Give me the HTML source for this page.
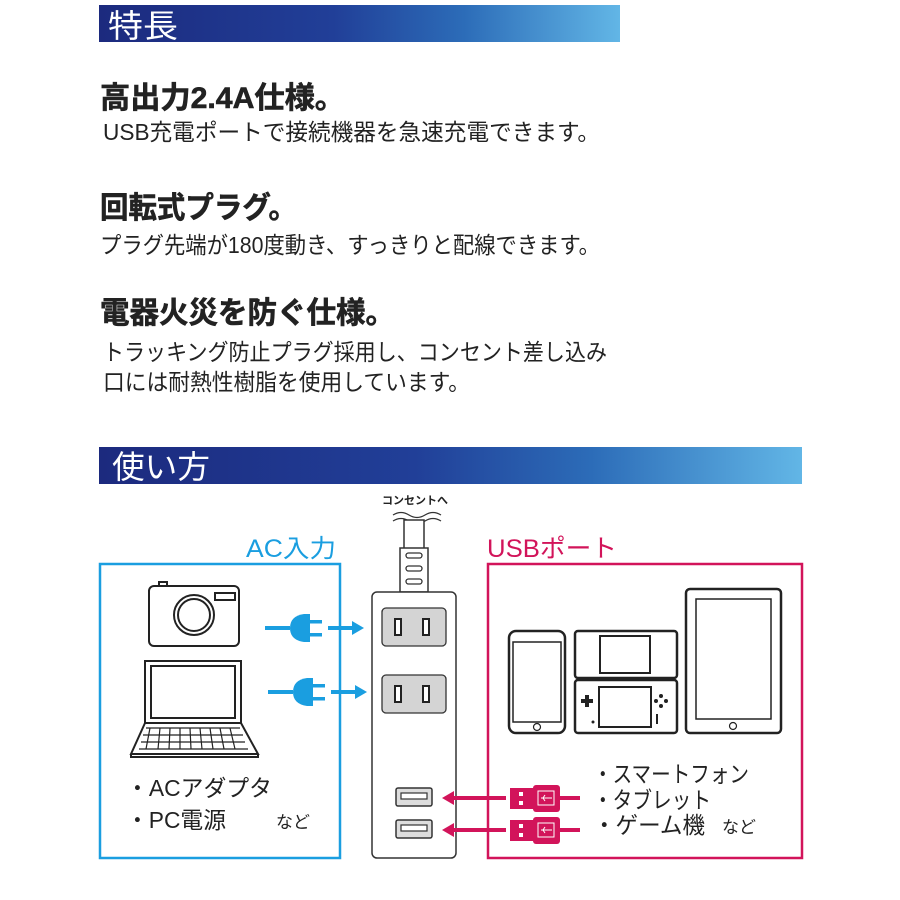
<!DOCTYPE html>
<html><head><meta charset="utf-8"><style>
html,body{margin:0;padding:0;background:#fff}
svg{display:block}
text{font-family:"Liberation Sans","Noto Sans CJK JP",sans-serif}
</style></head><body>
<svg width="900" height="900" viewBox="0 0 900 900" xmlns="http://www.w3.org/2000/svg">
<defs>
<linearGradient id="g1" x1="0" x2="1" y1="0" y2="0">
<stop offset="0" stop-color="#1c2a7e"/><stop offset="0.45" stop-color="#213f98"/><stop offset="0.7" stop-color="#2c6cb8"/><stop offset="1" stop-color="#62b6e6"/>
</linearGradient>
</defs>
<rect x="99" y="5" width="521" height="37" fill="url(#g1)"/>
<text x="108" y="37" font-size="32" fill="#fff" textLength="70" lengthAdjust="spacingAndGlyphs">特長</text>
<rect x="99" y="447" width="703" height="37" fill="url(#g1)"/>
<text x="112" y="478" font-size="32" fill="#fff" textLength="98" lengthAdjust="spacingAndGlyphs">使い方</text>

<g fill="#222">
<text x="100" y="108" font-size="30" font-weight="bold" stroke="#222" stroke-width="0.6" textLength="245" lengthAdjust="spacingAndGlyphs">高出力2.4A仕様。</text>
<text x="103" y="140" font-size="23" textLength="497" lengthAdjust="spacingAndGlyphs">USB充電ポートで接続機器を急速充電できます。</text>
<text x="100" y="218" font-size="30" font-weight="bold" stroke="#222" stroke-width="0.6" textLength="197" lengthAdjust="spacingAndGlyphs">回転式プラグ。</text>
<text x="100" y="253" font-size="23" textLength="500" lengthAdjust="spacingAndGlyphs">プラグ先端が180度動き、すっきりと配線できます。</text>
<text x="100" y="323" font-size="30" font-weight="bold" stroke="#222" stroke-width="0.6" textLength="295" lengthAdjust="spacingAndGlyphs">電器火災を防ぐ仕様。</text>
<text x="103" y="360" font-size="23" textLength="504" lengthAdjust="spacingAndGlyphs">トラッキング防止プラグ採用し、コンセント差し込み</text>
<text x="103" y="390" font-size="23" textLength="367" lengthAdjust="spacingAndGlyphs">口には耐熱性樹脂を使用しています。</text>
</g>

<rect x="100" y="564" width="240" height="294" fill="none" stroke="#1a9ee0" stroke-width="2.5"/>
<text x="246" y="557" font-size="25" fill="#1a9ee0" textLength="90" lengthAdjust="spacingAndGlyphs">AC入力</text>
<rect x="488" y="564" width="314" height="294" fill="none" stroke="#d2145a" stroke-width="2.5"/>
<text x="487" y="557" font-size="25" fill="#d2145a" textLength="130" lengthAdjust="spacingAndGlyphs">USBポート</text>

<text x="382" y="504" font-size="11" font-weight="bold" fill="#222" textLength="66" lengthAdjust="spacingAndGlyphs">コンセントへ</text>
<path d="M393 515 q8 -5 16 0 t16 0 t16 0 M393 521 q8 -5 16 0 t16 0 t16 0" fill="none" stroke="#333" stroke-width="1.2"/>
<rect x="404" y="520" width="20" height="30" fill="#fff" stroke="#333" stroke-width="1.5"/>
<rect x="400" y="548" width="28" height="44" fill="#fff" stroke="#333" stroke-width="1.5"/>
<g fill="none" stroke="#333" stroke-width="1.3"><rect x="406" y="553" width="16" height="5" rx="2.5"/><rect x="406" y="566" width="16" height="5" rx="2.5"/><rect x="406" y="579" width="16" height="5" rx="2.5"/></g>
<rect x="372" y="592" width="84" height="266" rx="5" fill="#fff" stroke="#333" stroke-width="1.5"/>
<rect x="382" y="608" width="64" height="38" rx="4" fill="#d4d4d4" stroke="#333" stroke-width="1.3"/>
<rect x="382" y="675" width="64" height="38" rx="4" fill="#d4d4d4" stroke="#333" stroke-width="1.3"/>
<g fill="#fff" stroke="#222" stroke-width="2"><rect x="395" y="619" width="6" height="16"/><rect x="423" y="619" width="6" height="16"/><rect x="395" y="686" width="6" height="16"/><rect x="423" y="686" width="6" height="16"/></g>
<g fill="#ddd" stroke="#333" stroke-width="1.5"><rect x="396" y="788" width="36" height="18" rx="2"/><rect x="396" y="820" width="36" height="18" rx="2"/></g>
<g fill="#fff" stroke="#333" stroke-width="1.2"><rect x="401" y="793" width="26" height="6"/><rect x="401" y="825" width="26" height="6"/></g>

<g fill="#1a9ee0" stroke="#1a9ee0">
<g id="bp"><line x1="265" y1="628" x2="290" y2="628" stroke-width="4"/>
<path d="M290 628 Q290 616 304 614 L310 614 L310 642 L304 642 Q290 640 290 628Z" stroke="none"/>
<rect x="310" y="620" width="12" height="3.5" stroke="none"/><rect x="310" y="633" width="12" height="3.5" stroke="none"/>
<line x1="328" y1="628" x2="356" y2="628" stroke-width="4"/><path d="M352 621 L364 628 L352 635Z" stroke="none"/></g>
<use href="#bp" transform="translate(3,64)"/>
</g>

<g fill="none" stroke="#222" stroke-width="2">
<rect x="149" y="586" width="90" height="60" rx="5"/><rect x="159" y="582" width="8" height="4"/>
<rect x="215" y="593" width="20" height="7"/>
<circle cx="194" cy="615" r="20"/><circle cx="194" cy="615" r="16"/>
<rect x="145" y="661" width="96" height="62"/><rect x="151" y="666" width="84" height="52"/>
<path d="M145 723 L131 754 L258 754 L241 723Z"/>
<path d="M131 754 L131 757 L258 757 L258 754"/>
</g>
<g stroke="#222" stroke-width="1.2" fill="none">
<path d="M146 728 H240 M143 735 H243 M141 742 H245 M139 749 H248"/>
<path d="M150 728 L146 749 M160 728 L158 749 M170 728 L169 749 M180 728 L180 749 M190 728 L191 749 M200 728 L202 749 M210 728 L213 749 M220 728 L224 749 M230 728 L235 749"/>
</g>
<g fill="#222">
<text x="126" y="796" font-size="23" textLength="146" lengthAdjust="spacingAndGlyphs">・ACアダプタ</text>
<text x="126" y="828" font-size="23" textLength="100" lengthAdjust="spacingAndGlyphs">・PC電源</text>
<text x="276" y="828" font-size="17" textLength="34" lengthAdjust="spacingAndGlyphs">など</text>
</g>

<g fill="none" stroke="#222">
<rect x="509" y="631" width="56" height="102" rx="7" stroke-width="2.5"/><rect x="513" y="642" width="48" height="80" stroke-width="1.5"/><circle cx="537" cy="727" r="3.5" stroke-width="1.2"/>
<rect x="575" y="631" width="102" height="47" rx="3" stroke-width="2.5"/><rect x="600" y="636" width="50" height="37" stroke-width="2"/>
<rect x="575" y="680" width="102" height="53" rx="3" stroke-width="2.5"/><rect x="599" y="687" width="52" height="40" stroke-width="2"/>
<rect x="686" y="589" width="95" height="144" rx="4" stroke-width="2.5"/><rect x="696" y="599" width="75" height="120" stroke-width="1.5"/><circle cx="733" cy="726" r="3.5" stroke-width="1.2"/>
</g>
<g fill="#222"><rect x="581" y="699" width="12" height="4"/><rect x="585" y="695" width="4" height="12"/><circle cx="593" cy="722" r="1.5"/>
<circle cx="661" cy="696" r="2"/><circle cx="656" cy="701" r="2"/><circle cx="666" cy="701" r="2"/><circle cx="661" cy="706" r="2"/><rect x="656" y="714" width="2" height="10"/></g>

<g id="uc">
<line x1="452" y1="798" x2="506" y2="798" stroke="#d2145a" stroke-width="4"/><path d="M454 791 L442 798 L454 805Z" fill="#d2145a"/>
<rect x="510" y="788" width="23" height="21" fill="#d2145a"/><rect x="519" y="792" width="4" height="4" fill="#fff"/><rect x="519" y="801" width="4" height="4" fill="#fff"/>
<rect x="533" y="785" width="27" height="27" rx="3" fill="#d2145a"/><rect x="538" y="791" width="16" height="14" fill="none" stroke="#fff" stroke-width="1"/>
<path d="M541 798 H552 M545 795 L543 798 L545 801" stroke="#fff" stroke-width="1" fill="none"/>
<line x1="560" y1="798" x2="580" y2="798" stroke="#d2145a" stroke-width="4"/>
</g>
<use href="#uc" transform="translate(0,32)"/>
<g fill="#222">
<text x="593" y="782" font-size="23" textLength="156" lengthAdjust="spacingAndGlyphs">・スマートフォン</text>
<text x="593" y="808" font-size="23" textLength="118" lengthAdjust="spacingAndGlyphs">・タブレット</text>
<text x="593" y="833" font-size="23" textLength="112" lengthAdjust="spacingAndGlyphs">・ゲーム機</text>
<text x="722" y="833" font-size="17" textLength="34" lengthAdjust="spacingAndGlyphs">など</text>
</g>
</svg>
</body></html>
